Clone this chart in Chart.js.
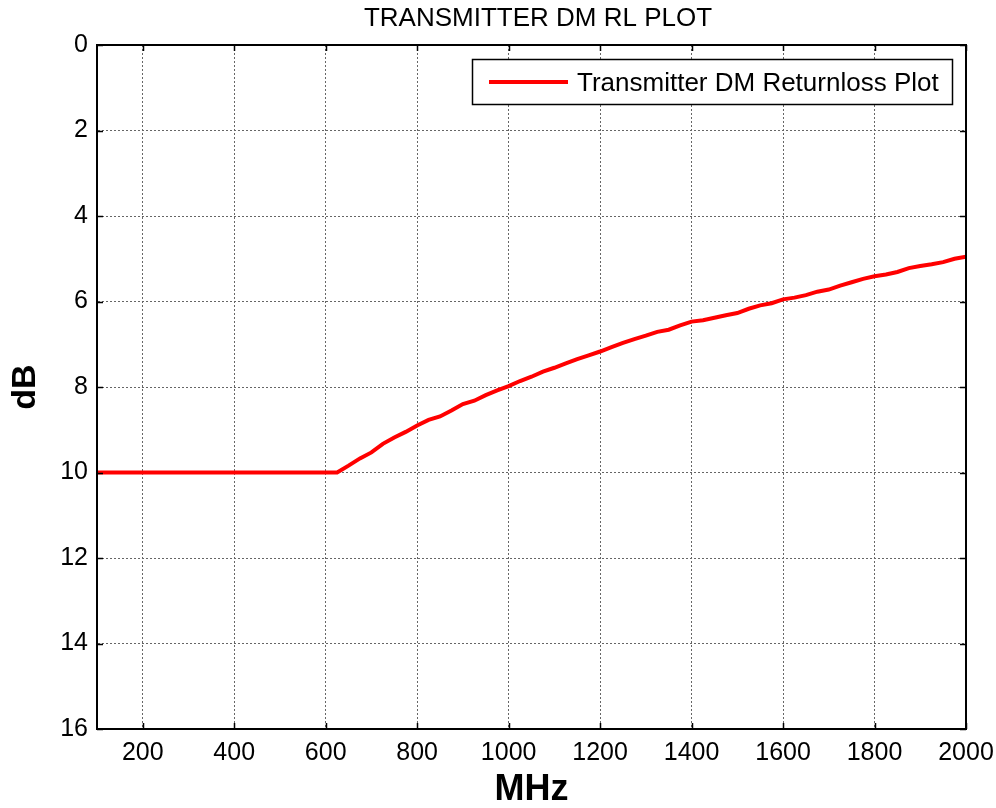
<!DOCTYPE html>
<html lang="en">
<head>
    <meta charset="UTF-8">
    <title>TRANSMITTER DM RL PLOT</title>
    <script src="https://cdn.jsdelivr.net/npm/chart.js"></script>
    <style>
        html, body {
            margin: 0;
            padding: 0;
            background: #fff;
        }
        #wrap {
            width: 996px;
            height: 808px;
        }
    </style>
</head>
<body>
    <div id="wrap"><canvas id="rlChart"></canvas></div>

    <script>
        // data (MHz vs dB)
        const freqMHz = [100, 625, 650, 675, 700, 725, 750, 775, 800, 825, 850, 875, 900, 925, 950, 975,
            1000, 1025, 1050, 1075, 1100, 1125, 1150, 1175, 1200, 1225, 1250, 1275, 1300, 1325, 1350, 1375,
            1400, 1425, 1450, 1475, 1500, 1525, 1550, 1575, 1600, 1625, 1650, 1675, 1700, 1725, 1750, 1775,
            1800, 1825, 1850, 1875, 1900, 1925, 1950, 1975, 2000];
        const returnLossDb = [10, 10, 9.84, 9.67, 9.53, 9.33, 9.18, 9.05, 8.90, 8.77, 8.69, 8.55, 8.40, 8.32, 8.19, 8.08,
            7.98, 7.86, 7.76, 7.64, 7.55, 7.45, 7.35, 7.26, 7.17, 7.07, 6.97, 6.88, 6.80, 6.71, 6.66, 6.56,
            6.47, 6.44, 6.38, 6.32, 6.27, 6.17, 6.09, 6.04, 5.95, 5.91, 5.85, 5.77, 5.72, 5.63, 5.55, 5.47,
            5.41, 5.37, 5.31, 5.22, 5.17, 5.13, 5.08, 5.00, 4.95];
        const xTicks = [200, 400, 600, 800, 1000, 1200, 1400, 1600, 1800, 2000];
        const yTicks = [0, 2, 4, 6, 8, 10, 12, 14, 16];
        const seriesName = 'Transmitter DM Returnloss Plot';
        const chartTitle = 'TRANSMITTER DM RL PLOT';

        const fontFam = '"Liberation Sans", Arial, sans-serif';

        // title, box, inward ticks and the boxed legend, matlab style
        const matlabDecor = {
            id: 'matlabDecor',
            afterDraw(chart) {
                const c = chart.ctx;
                const a = chart.chartArea;
                const xs = chart.scales.x;
                const ys = chart.scales.y;
                c.save();

                c.fillStyle = '#000';
                c.font = '26px ' + fontFam;
                c.textAlign = 'center';
                c.textBaseline = 'middle';
                c.fillText(chartTitle, 538, 19);

                c.strokeStyle = '#000';
                c.lineWidth = 1.5;
                xTicks.forEach(v => {
                    const px = Math.round(xs.getPixelForValue(v)) + 0.5;
                    c.beginPath();
                    c.moveTo(px, a.top); c.lineTo(px, a.top + 6);
                    c.moveTo(px, a.bottom); c.lineTo(px, a.bottom - 6);
                    c.stroke();
                });
                yTicks.forEach(v => {
                    const py = Math.round(ys.getPixelForValue(v)) + 0.5;
                    c.beginPath();
                    c.moveTo(a.left, py); c.lineTo(a.left + 6, py);
                    c.moveTo(a.right, py); c.lineTo(a.right - 6, py);
                    c.stroke();
                });

                c.lineWidth = 2;
                c.strokeRect(a.left, a.top, a.right - a.left, a.bottom - a.top);

                // legend
                const ds = chart.data.datasets[0];
                c.fillStyle = '#fff';
                c.fillRect(472, 59, 481, 46);
                c.lineWidth = 1.5;
                c.strokeStyle = '#000';
                c.strokeRect(472.5, 59.5, 480, 45);
                c.strokeStyle = ds.borderColor;
                c.lineWidth = 4;
                c.beginPath();
                c.moveTo(489, 82); c.lineTo(568, 82);
                c.stroke();
                c.fillStyle = '#000';
                c.font = '26px ' + fontFam;
                c.textAlign = 'left';
                c.fillText(ds.label, 577, 84);
                c.restore();
            }
        };

        const ctx = document.getElementById('rlChart').getContext('2d');
        new Chart(ctx, {
            type: 'line',
            data: {
                datasets: [{
                    label: seriesName,
                    data: freqMHz.map((f, i) => ({ x: f, y: returnLossDb[i] })),
                    borderColor: '#ff0000',
                    borderWidth: 4,
                    pointRadius: 0,
                    tension: 0,
                    fill: false
                }]
            },
            options: {
                animation: false,
                responsive: true,
                maintainAspectRatio: false,
                layout: { padding: { top: 45, right: 30, bottom: 0, left: 0 } },
                plugins: {
                    legend: { display: false },
                    title: { display: false },
                    tooltip: { enabled: false }
                },
                scales: {
                    x: {
                        type: 'linear',
                        min: 100,
                        max: 2000,
                        afterBuildTicks: s => { s.ticks = xTicks.map(v => ({ value: v })); },
                        afterFit: s => { s.height = 79; s.paddingLeft = 0; s.paddingRight = 0; },
                        grid: { color: '#666', lineWidth: 1, drawTicks: false },
                        border: { display: true, color: '#000', width: 2, dash: [2, 2] },
                        ticks: {
                            color: '#000',
                            padding: 9,
                            maxRotation: 0,
                            callback: v => String(v),
                            font: { size: 25, family: fontFam }
                        },
                        title: {
                            display: true,
                            text: 'MHz',
                            color: '#000',
                            padding: 0,
                            font: { size: 36, weight: 'bold', family: fontFam, lineHeight: 1 }
                        }
                    },
                    y: {
                        type: 'linear',
                        reverse: true,
                        min: 0,
                        max: 16,
                        afterBuildTicks: s => { s.ticks = yTicks.map(v => ({ value: v })); },
                        afterFit: s => { s.width = 97; s.paddingTop = 0; s.paddingBottom = 0; },
                        grid: { color: '#666', lineWidth: 1, drawTicks: false },
                        border: { display: true, color: '#000', width: 2, dash: [2, 2] },
                        ticks: {
                            color: '#000',
                            padding: 9,
                            callback: v => String(v),
                            font: { size: 25, family: fontFam }
                        },
                        title: {
                            display: true,
                            text: 'dB',
                            color: '#000',
                            padding: 5,
                            font: { size: 34, weight: 'bold', family: fontFam, lineHeight: 1.2 }
                        }
                    }
                }
            },
            plugins: [matlabDecor]
        });
    </script>
</body>
</html>
